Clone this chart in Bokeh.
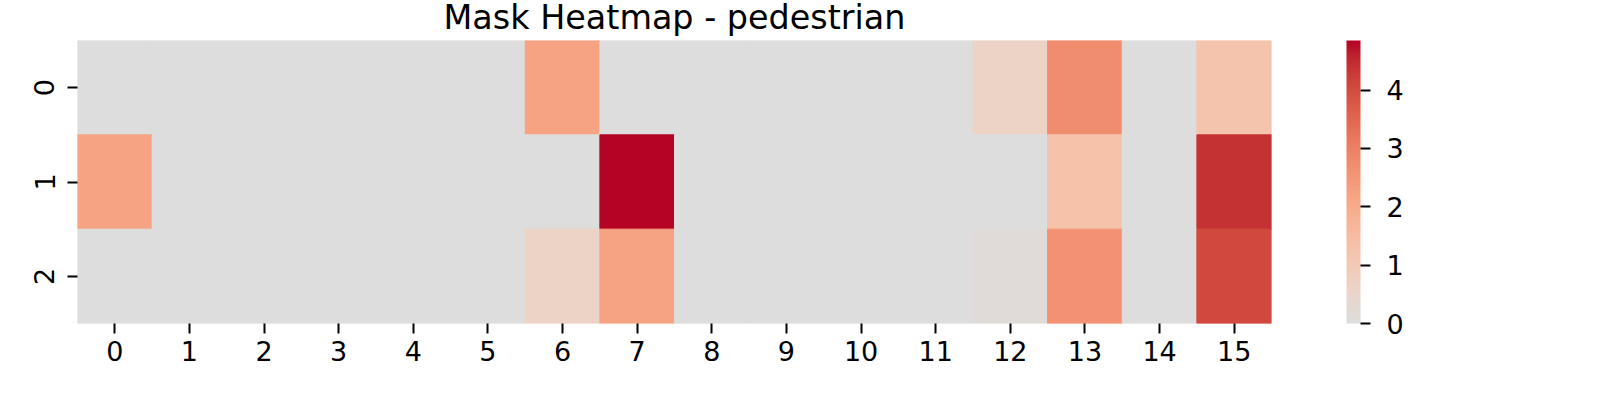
import numpy as np
from bokeh.plotting import figure
from bokeh.models import ColumnDataSource, LinearColorMapper, ColorBar, FixedTicker, Range1d
from bokeh.embed import file_html
from bokeh.resources import INLINE

title_text = "Mask Heatmap - pedestrian"
row_labels = [0, 1, 2]
col_labels = list(range(16))
row0 = [0, 0, 0, 0, 0, 0, 2.2, 0, 0, 0, 0, 0, 0.6, 2.73, 0, 1.22]
row1 = [2.2, 0, 0, 0, 0, 0, 0, 4.85, 0, 0, 0, 0, 0, 1.3, 0, 4.41]
row2 = [0, 0, 0, 0, 0, 0, 0.6, 2.2, 0, 0, 0, 0, 0.12, 2.62, 0, 4.07]
cbar_ticks = [0, 1, 2, 3, 4]

# upper half of the "coolwarm" colormap (centre -> warm end)
cmap_r = [221, 229, 236, 241, 245, 247, 247, 247, 244, 241, 236, 229, 222, 213, 203, 192, 180]
cmap_g = [221, 216, 211, 204, 196, 187, 177, 167, 154, 141, 127, 112, 96, 80, 62, 40, 4]
cmap_b = [221, 209, 197, 185, 173, 160, 148, 135, 123, 111, 99, 88, 77, 66, 56, 47, 38]

anchors = np.linspace(0, 1, len(cmap_r))
samp = np.linspace(0, 1, 256)
R = np.interp(samp, anchors, cmap_r)
G = np.interp(samp, anchors, cmap_g)
B = np.interp(samp, anchors, cmap_b)
palette = ["#%02x%02x%02x" % (int(round(r)), int(round(g)), int(round(b))) for r, g, b in zip(R, G, B)]

grid = [row0, row1, row2]
xs, ys, vs = [], [], []
for ri, row in zip(row_labels, grid):
    for ci, v in zip(col_labels, row):
        xs.append(ci)
        ys.append(ri)
        vs.append(v)
src = ColumnDataSource(dict(x=xs, y=ys, v=vs))

vmax = max(vs)
mapper = LinearColorMapper(palette=palette, low=0, high=vmax)

x_lo, x_hi = col_labels[0] - 0.5, col_labels[-1] + 0.5
y_top, y_bot = row_labels[0] - 0.5, row_labels[-1] + 0.5

p = figure(frame_width=1194, frame_height=283, output_backend="svg", toolbar_location=None,
           x_range=Range1d(x_lo, x_hi), y_range=Range1d(y_bot, y_top),
           min_border_left=77, min_border_right=313, min_border_top=52, min_border_bottom=61)
p.margin = (-12, 0, 0, 0)

p.rect(x="x", y="y", width=1, height=1, source=src,
       fill_color={"field": "v", "transform": mapper},
       line_color={"field": "v", "transform": mapper}, line_width=1)

p.title.text = title_text
p.title.align = "center"
p.title.text_font = "DejaVu Sans"
p.title.text_font_size = "33.4px"
p.title.text_font_style = "normal"
p.title.text_color = "black"
p.title.standoff = 8

p.xaxis.ticker = FixedTicker(ticks=col_labels)
p.yaxis.ticker = FixedTicker(ticks=row_labels)
for ax in (p.xaxis, p.yaxis):
    ax.axis_line_color = None
    ax.major_tick_in = 0
    ax.major_tick_out = 10
    ax.major_tick_line_width = 2
    ax.major_tick_line_color = "black"
    ax.minor_tick_line_color = None
    ax.major_label_text_font = "DejaVu Sans"
    ax.major_label_text_font_size = "27px"
    ax.major_label_text_color = "black"
p.xaxis.major_label_standoff = 7
p.yaxis.major_label_standoff = 13
p.yaxis.major_label_orientation = "vertical"

p.xgrid.grid_line_color = None
p.ygrid.grid_line_color = None
p.outline_line_color = None
p.background_fill_color = "white"

cb = ColorBar(color_mapper=mapper, ticker=FixedTicker(ticks=cbar_ticks),
              width=14, height=283, location=(75, 0), padding=0, margin=0,
              major_tick_in=0, major_tick_out=10, major_tick_line_color="black",
              major_tick_line_width=2, minor_tick_line_color=None,
              major_label_text_font="DejaVu Sans", major_label_text_font_size="27px",
              major_label_text_color="black", label_standoff=16,
              bar_line_color=None, border_line_color=None, background_fill_color=None)
p.add_layout(cb, "right")

open("out.html", "w").write(file_html(p, INLINE))
